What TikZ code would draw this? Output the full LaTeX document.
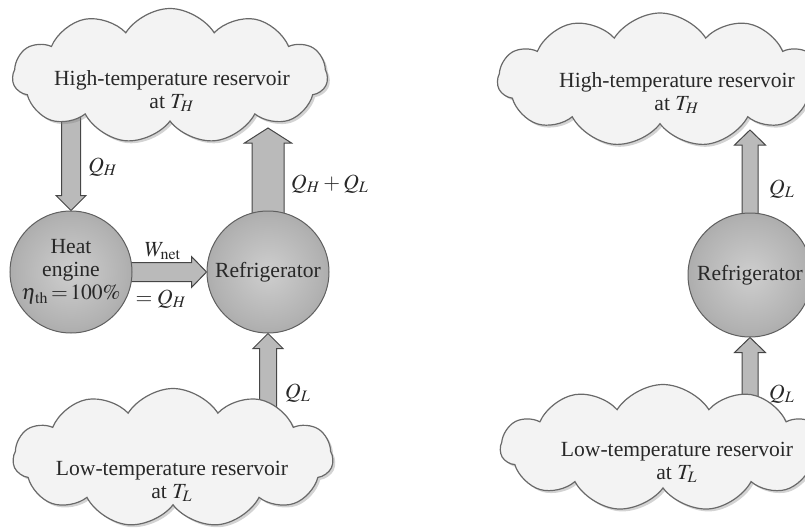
\documentclass[tikz,border=0pt]{standalone}
\usepackage{mathptmx}
\usepackage[no-math]{fontspec}
\setmainfont{Liberation Serif}
\usetikzlibrary{shapes.symbols, shadows, calc, backgrounds}
\definecolor{cloudfill}{RGB}{243, 243, 243}
\definecolor{cloudedge}{RGB}{105, 105, 105}
\definecolor{balledge}{RGB}{95, 95, 95}
\definecolor{ballin}{RGB}{206, 206, 206}
\definecolor{ballmid}{RGB}{178, 178, 178}
\definecolor{ballout}{RGB}{132, 132, 132}
\definecolor{shaftfill}{RGB}{186, 186, 186}
\definecolor{shaftedge}{RGB}{70, 70, 70}
\definecolor{inktext}{RGB}{40, 40, 40}
\pgfdeclareradialshading{ballshade}{\pgfpoint{0bp}{0bp}}{%
  color(0bp)=(ballin); color(22bp)=(ballmid); color(50bp)=(ballout)}

% fat arrow: tail, tip, half shaft width, half head width
\newcommand{\fatarrow}[4]{%
  \coordinate (fa-neck) at ($(#2)!7.5pt!(#1)$);
  \filldraw[fat]
    ($(#1)!#3!90:(#2)$) -- ($(fa-neck)!#3!90:(#2)$) -- ($(fa-neck)!#4!90:(#2)$)
    -- (#2) -- ($(fa-neck)!#4!-90:(#2)$) -- ($(fa-neck)!#3!-90:(#2)$)
    -- ($(#1)!#3!-90:(#2)$) -- cycle;
}

\begin{document}
\begin{tikzpicture}[x=0.5pt, y=-0.5pt,
  every node/.style={font=\fontsize{10.8}{11.5}\selectfont, text=inktext},
  reservoir/.style={cloud, cloud puffs=11, cloud puff arc=115, cloud ignores aspect,
    draw=cloudedge, fill=cloudfill, line width=0.6pt, inner sep=0pt,
    drop shadow={shadow xshift=1.2pt, shadow yshift=-1.2pt, opacity=0.35}},
  restext/.style={align=center},
  device/.style={circle, draw=balledge, line width=0.5pt, shade, shading=ballshade,
    minimum size=#1, inner sep=0pt, align=center},
  fat/.style={fill=shaftfill, draw=shaftedge, line width=0.5pt, line join=miter}]
  \useasboundingbox (0,0) rectangle (805,530);
  \clip (0,0) rectangle (805,530);

  % left: heat engine driving a refrigerator
  \node[reservoir, minimum width=157.5pt, minimum height=67.5pt] (hotL) at (170,76) {};
  \node[restext] (hotLtxt) at (172,91) {High-temperature reservoir\\at $T_H$};
  \node[reservoir, minimum width=160pt, minimum height=69.5pt] (lowL) at (173,458) {};
  \node[restext] (lowLtxt) at (172,481) {Low-temperature reservoir\\at $T_L$};

  \node[device=61pt] (eng) at (71,272)
    {Heat\\engine\\$\eta_{\mskip1mu\mathrm{th}}\mskip2mu{=}\mskip2mu 100\%$};
  \node[device=61pt] (refL) at (268,272) {Refrigerator};

  % right: refrigerator alone
  \node[reservoir, minimum width=162.5pt, minimum height=67pt] (hotR) at (660,80) {};
  \node[restext] (hotRtxt) at (677,93) {High-temperature reservoir\\at $T_H$};
  \node[reservoir, minimum width=162.5pt, minimum height=63.5pt] (lowR) at (663,448) {};
  \node[restext] (lowRtxt) at (677,462) {Low-temperature reservoir\\at $T_L$};

  \node[device=62pt] (refR) at (750,275) {Refrigerator};

  \begin{scope}[on background layer]
    \coordinate (qh-tail) at (eng.north |- hotL.center);
    \coordinate (qsum-tip) at (refL.center |- 0,128);
    \coordinate (ql-tail) at (refL.center |- lowL.center);
    \coordinate (qlr-tip) at (refR.center |- 0,130);
    \coordinate (qlr-tail) at (refR.center |- lowR.center);
    \fatarrow{qh-tail}{eng.north}{4.75pt}{7.5pt}
    \fatarrow{eng.center}{refL.west}{4.75pt}{7.75pt}
    \fatarrow{refL.center}{qsum-tip}{8pt}{11.75pt}
    \fatarrow{ql-tail}{refL.south}{4.25pt}{7.5pt}
    \fatarrow{refR.center}{qlr-tip}{4pt}{7.75pt}
    \fatarrow{qlr-tail}{refR.south}{4pt}{7.75pt}
  \end{scope}

  % heat and work labels
  \node (lqh) at (103,167) {$Q_H$};
  \node (lwnet) at (163,251) {$W_{\mathrm{net}}$};
  \node (lwnet2) at (161,299) {$= Q_H$};
  \node (lqsum) at (330,184) {$Q_H + Q_L$};
  \node (lql) at (298,393) {$Q_L$};
  \node (lqlr1) at (782,189) {$Q_L$};
  \node (lqlr2) at (782,394) {$Q_L$};
\end{tikzpicture}
\end{document}
